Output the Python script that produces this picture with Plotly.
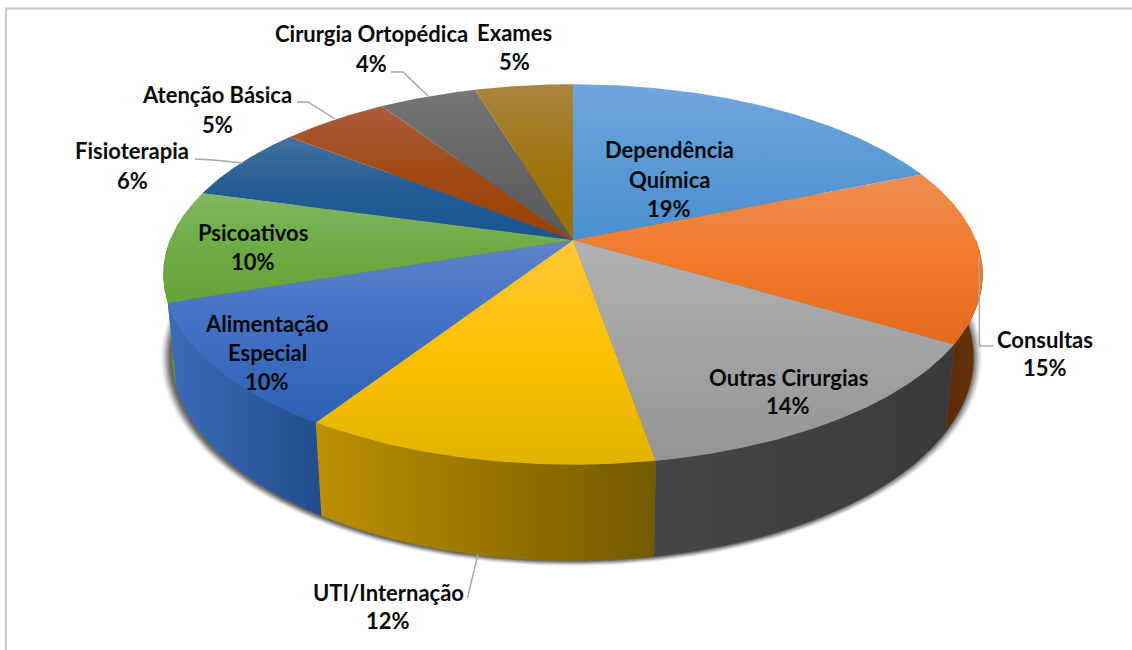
import numpy as np
import plotly.graph_objects as go

# ---- data (share of the whole, %)
categories = ["Dependência Química", "Consultas", "Outras Cirurgias", "UTI/Internação",
              "Alimentação Especial", "Psicoativos", "Fisioterapia", "Atenção Básica",
              "Cirurgia Ortopédica", "Exames"]
values = [18.8, 14.8, 13.7, 11.8, 10.7, 9.5, 6.4, 5.1, 4.6, 4.6]
percent_labels = ["19%", "15%", "14%", "12%", "10%", "10%", "6%", "5%", "4%", "5%"]

# ---- styles
top_colors = [
    ["#71a6dc", "#5a9bd6", "#4b8fd0"],
    ["#ee8d54", "#f27a28", "#e4691b"],
    ["#b2b2b2", "#a3a3a3", "#959595"],
    ["#ffc83a", "#fdc000", "#e0b300"],
    ["#5f82cb", "#4270c4", "#2d61b6"],
    ["#80b85f", "#6dac45", "#64a337"],
    ["#44709f", "#235d95", "#185690"],
    ["#ad5c3a", "#a04a14", "#9a4000"],
    ["#767676", "#666666", "#585858"],
    ["#a98540", "#a07610", "#986f00"],
]
side_colors = {
    1: ("#6a3408", "#5a2c08"),
    2: ("#3a3a3a", "#464646"),
    3: ("#745a00", "#bb9000"),
    4: ("#224c8c", "#3c6cb8"),
    5: ("#5d9a36", "#5d9a36"),
}
CX, CY = 573, 240
A, B, K = 403, 184, 0.181
SX, SY, DY = 0.978, 1.068, 64.6


def top_xy(theta):
    u, v = np.sin(theta), np.cos(theta)
    w = 1 + K * v
    return CX + A * u / w, CY - B * v / w


def bottom_xy(theta):
    x, y = top_xy(theta)
    return CX + (x - CX) * SX, SY * y + DY


cum = np.cumsum([0] + values) / sum(values) * 2 * np.pi
fig = go.Figure()


def poly(x, y, **kw):
    fig.add_trace(go.Scatter(x=x, y=y, mode="lines", fill="toself", line=dict(width=0),
                             hoverinfo="skip", showlegend=False, **kw))


# soft shadow under the disc: many faint layers, denser towards the disc
t = np.linspace(0, 2 * np.pi, 361)
bx, by = bottom_xy(t)
bcy = (by.min() + by.max()) / 2
for e in [10, 9, 8, 7, 6, 5, 4, 3, 2, 1]:
    alpha = 0.035 + 0.02 * (10 - e)
    poly(CX - 1.5 + (bx - CX) * (1 + e / 400), bcy + (by - bcy) * (1 + 0.5 * e / 190),
         fillcolor=f"rgba(50,50,50,{alpha:.3f})")

# outer wall of the slices that face the viewer
lo, hi = np.pi / 2, 3 * np.pi / 2
for i in sorted(side_colors, key=lambda j: abs(cum[j] + cum[j + 1] - 2 * np.pi), reverse=True):
    a0, a1 = max(cum[i], lo), min(cum[i + 1], hi)
    th = np.linspace(a0, a1, 90)
    xt, yt = top_xy(th)
    xb, yb = bottom_xy(th)
    xs = np.r_[xt, xb[::-1]]
    ys = np.r_[yt, yb[::-1]]
    c0, c1 = side_colors[i]
    # x grows while theta falls on the front edge, so c0 is on the right of the slice
    poly(xs, ys, fillgradient=dict(type="horizontal", colorscale=[[0, c1], [1, c0]],
                                   start=float(xs.min()), stop=float(xs.max())))

# top faces
for i in range(len(values)):
    th = np.linspace(cum[i], cum[i + 1], 120)
    xt, yt = top_xy(th)
    xs = np.r_[CX, xt, CX]
    ys = np.r_[CY, yt, CY]
    cols = top_colors[i]
    poly(xs, ys, fillgradient=dict(type="vertical",
                                   colorscale=[[0, cols[0]], [0.5, cols[1]], [1, cols[2]]],
                                   start=float(ys.min()), stop=float(ys.max())))

# leader lines
leaders = [
    ([979, 979.5, 993], [255, 346, 346]),
    ([478, 467.5], [554, 598]),
    ([391, 403, 428], [72, 72, 96]),
    ([297, 308, 335], [102, 102, 119]),
    ([195, 213, 243], [159, 160, 163]),
]
for lx, ly in leaders:
    fig.add_trace(go.Scatter(x=lx, y=ly, mode="lines", line=dict(color="#a6a6a6", width=1.4),
                             hoverinfo="skip", showlegend=False))

# labels: name lines then the percentage
label_lines = {
    0: (669, [149, 179, 208], ["Dependência", "Química"]),
    1: (1045, [339, 367], ["Consultas"]),
    2: (788, [377, 405], ["Outras Cirurgias"]),
    3: (388, [592, 620], ["UTI/Internação"]),
    4: (267, [323, 352, 381], ["Alimentação", "Especial"]),
    5: (253, [232, 261], ["Psicoativos"]),
    6: (132, [150, 180], ["Fisioterapia"]),
    7: (217, [94, 124], ["Atenção Básica"]),
    8: (371, [33, 63], ["Cirurgia Ortopédica"]),
    9: (514, [32, 61], ["Exames"]),
}
for i, (x, ys, names) in label_lines.items():
    for y, s in zip(ys, names + [percent_labels[i]]):
        fig.add_annotation(x=x, y=y, text=f"<b>{s}</b>", showarrow=False, xanchor="center",
                           yanchor="middle", font=dict(family="Lato", size=22, color="#0a0a0a"))

# chart frame (left and top edges stay in view)
fig.add_shape(type="line", x0=6, x1=6, y0=8.5, y1=650, line=dict(color="#c8c8c8", width=2))
fig.add_shape(type="line", x0=5, x1=1132, y0=8.5, y1=8.5, line=dict(color="#c8c8c8", width=2))

fig.update_layout(
    width=1132, height=650, margin=dict(l=0, r=0, t=0, b=0),
    paper_bgcolor="white", plot_bgcolor="white", showlegend=False,
    xaxis=dict(range=[0, 1132], visible=False, fixedrange=True),
    yaxis=dict(range=[650, 0], visible=False, fixedrange=True),
)
fig.write_html("out.html", post_script="document.body.style.margin='0';", config={"displayModeBar": False})
